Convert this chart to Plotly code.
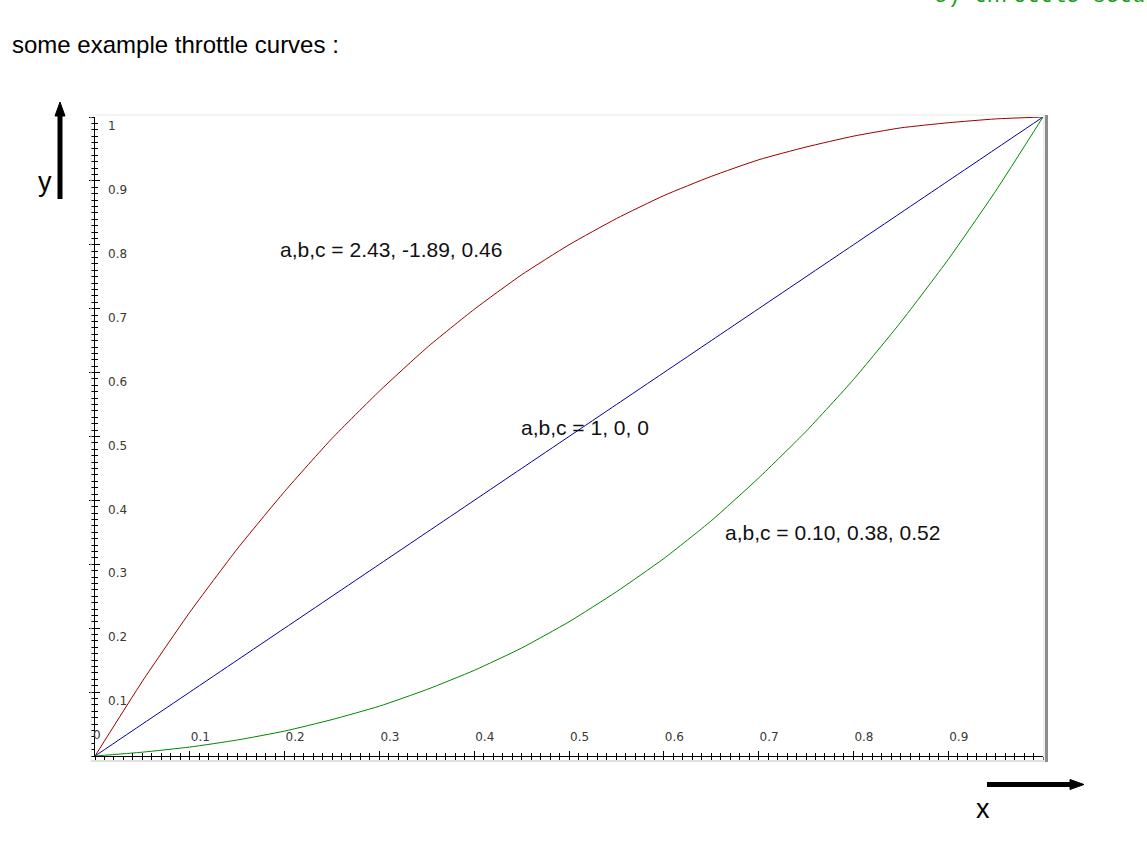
import plotly.graph_objects as go

# ---------------- data ----------------
x_vals = [0.00, 0.05, 0.10, 0.15, 0.20, 0.25, 0.30, 0.35, 0.40, 0.45, 0.50,
          0.55, 0.60, 0.65, 0.70, 0.75, 0.80, 0.85, 0.90, 0.95, 1.00]
red_y = [0.000, 0.117, 0.225, 0.324, 0.414, 0.497, 0.571, 0.639, 0.699, 0.753, 0.800,
         0.841, 0.877, 0.907, 0.933, 0.953, 0.970, 0.983, 0.991, 0.997, 1.000]
blue_y = [0.00, 0.05, 0.10, 0.15, 0.20, 0.25, 0.30, 0.35, 0.40, 0.45, 0.50,
          0.55, 0.60, 0.65, 0.70, 0.75, 0.80, 0.85, 0.90, 0.95, 1.00]
green_y = [0.000, 0.006, 0.014, 0.025, 0.039, 0.057, 0.078, 0.104, 0.134, 0.169, 0.210,
           0.257, 0.309, 0.368, 0.435, 0.508, 0.589, 0.679, 0.777, 0.884, 1.000]

x_tickvals = [0, 0.1, 0.2, 0.3, 0.4, 0.5, 0.6, 0.7, 0.8, 0.9]
x_ticktext = ["0", "0.1", "0.2", "0.3", "0.4", "0.5", "0.6", "0.7", "0.8", "0.9"]
y_tickvals = [0.1, 0.2, 0.3, 0.4, 0.5, 0.6, 0.7, 0.8, 0.9, 1.0]
y_ticktext = ["0.1", "0.2", "0.3", "0.4", "0.5", "0.6", "0.7", "0.8", "0.9", "1"]

labels = ["a,b,c = 2.43, -1.89, 0.46", "a,b,c = 1, 0, 0", "a,b,c = 0.10, 0.38, 0.52"]
title_text = "some example throttle curves :"
corner_text = "c) throttle setup"

# ---------------- layout geometry (pixels) ----------------
W, H = 1147, 850
L, R = 95, 1043     # x=0 and x=1 pixel columns
T, B = 117, 756     # y=1 and y=0 pixel rows


def px(x):
    return (x - L) / (R - L)


def py(y):
    return (B - y) / (B - T)


fig = go.Figure()
colors = ["#990000", "#000099", "#008800"]
for ys, c in zip([red_y, blue_y, green_y], colors):
    fig.add_trace(go.Scatter(x=x_vals, y=ys, mode="lines",
                             line=dict(color=c, width=1, shape="spline", smoothing=0.5),
                             showlegend=False, hoverinfo="skip"))
# helper trace so the overlaid axis (outer half of the crossing ticks) is drawn
fig.add_trace(go.Scatter(x=[None], y=[None], xaxis="x2", yaxis="y2",
                         showlegend=False, hoverinfo="skip"))

tick_color = "#383838"
tickfont = dict(family="DejaVu Sans", size=12, color=tick_color)

common_x = dict(range=[0, 1], showgrid=False, zeroline=False,
                tickmode="array", tickvals=x_tickvals, ticktext=x_ticktext,
                ticklen=5, tickcolor="black", tickwidth=1,
                minor=dict(tickmode="linear", tick0=0, dtick=0.01, ticklen=3,
                           tickcolor="black", tickwidth=1))
common_y = dict(range=[0, 1], showgrid=False, zeroline=False,
                tickmode="array", tickvals=y_tickvals, ticktext=y_ticktext,
                ticklen=5, tickcolor="black", tickwidth=1,
                minor=dict(tickmode="linear", tick0=0, dtick=0.01, ticklen=3,
                           tickcolor="black", tickwidth=1))

xa = dict(common_x)
xa.update(showline=True, linecolor="black", linewidth=1, ticks="inside",
          ticklabelposition="inside right", tickfont=tickfont, ticklabelstandoff=9)
xa["minor"] = dict(common_x["minor"], ticks="inside")
xb = dict(common_x)
xb.update(overlaying="x", anchor="y", side="bottom", ticks="outside",
          showticklabels=False, showline=False, matches="x")
xb["minor"] = dict(common_x["minor"], ticks="outside")

ya = dict(common_y)
ya.update(showline=True, linecolor="black", linewidth=1, ticks="inside",
          ticklabelposition="inside bottom", tickfont=tickfont, ticklabelstandoff=12)
ya["minor"] = dict(common_y["minor"], ticks="inside")
yb = dict(common_y)
yb.update(overlaying="y", anchor="x", side="left", ticks="outside",
          showticklabels=False, showline=False, matches="y")
yb["minor"] = dict(common_y["minor"], ticks="outside")

fig.update_layout(
    width=W, height=H,
    margin=dict(l=L, r=W - R, t=T, b=H - B, pad=0),
    paper_bgcolor="white", plot_bgcolor="white",
    xaxis=xa, xaxis2=xb, yaxis=ya, yaxis2=yb,
    showlegend=False,
)

shapes = [
    # light frame around the applet area
    dict(type="line", xref="paper", yref="paper", x0=px(91), x1=px(1044),
         y0=py(115), y1=py(115), line=dict(color="#e8e8e8", width=1)),
    dict(type="line", xref="paper", yref="paper", x0=px(91), x1=px(91),
         y0=py(115), y1=py(762), line=dict(color="#e8e8e8", width=1)),
    dict(type="line", xref="paper", yref="paper", x0=px(91), x1=px(1044),
         y0=py(761), y1=py(761), line=dict(color="#e0e0e0", width=2)),
    dict(type="line", xref="paper", yref="paper", x0=px(1046.5), x1=px(1046.5),
         y0=py(115), y1=py(762), line=dict(color="#8c8c8c", width=3)),
    dict(type="line", xref="paper", yref="paper", x0=px(1044), x1=px(1044),
         y0=py(115), y1=py(762), line=dict(color="#dcdcdc", width=1)),
    # y arrow
    dict(type="line", xref="paper", yref="paper", x0=px(60), x1=px(60),
         y0=py(199), y1=py(114), line=dict(color="black", width=5)),
    dict(type="path", xref="paper", yref="paper",
         path=f"M {px(55)} {py(116)} L {px(65)} {py(116)} L {px(60)} {py(102)} Z",
         fillcolor="black", line=dict(color="black", width=1)),
    # x arrow
    dict(type="line", xref="paper", yref="paper", x0=px(987), x1=px(1071),
         y0=py(784.5), y1=py(784.5), line=dict(color="black", width=5)),
    dict(type="path", xref="paper", yref="paper",
         path=f"M {px(1070)} {py(779.5)} L {px(1070)} {py(789.5)} L {px(1084)} {py(784.5)} Z",
         fillcolor="black", line=dict(color="black", width=1)),
]
fig.update_layout(shapes=shapes)

label_font = dict(family="Liberation Sans", size=21, color="#111111")
ann = [
    dict(text=labels[0], x=px(278), y=py(249)),
    dict(text=labels[1], x=px(519), y=py(427)),
    dict(text=labels[2], x=px(723), y=py(532)),
]
for a in ann:
    fig.add_annotation(xref="paper", yref="paper", xanchor="left", yanchor="middle",
                       showarrow=False, font=label_font, **a)

# origin label "0" (plotly drops the inside label sitting on the plot edge)
fig.add_annotation(text=x_ticktext[0], xref="x", yref="paper", x=x_tickvals[0],
                   y=py(735), xanchor="left", yanchor="middle", xshift=-4,
                   showarrow=False, font=tickfont)

fig.add_annotation(text=title_text, xref="paper", yref="paper", x=px(10), y=py(45),
                   xanchor="left", yanchor="middle", showarrow=False,
                   font=dict(family="Liberation Sans", size=24, color="black"))
fig.add_annotation(text="y", xref="paper", yref="paper", x=px(45), y=py(182),
                   xanchor="center", yanchor="middle", showarrow=False,
                   font=dict(family="Liberation Sans", size=27, color="black"))
fig.add_annotation(text="x", xref="paper", yref="paper", x=px(983), y=py(809),
                   xanchor="center", yanchor="middle", showarrow=False,
                   font=dict(family="Liberation Sans", size=27, color="black"))
fig.add_annotation(text=corner_text, xref="paper", yref="paper", x=px(932), y=py(-3),
                   xanchor="left", yanchor="middle", showarrow=False,
                   font=dict(family="Liberation Mono", size=22, color="#14a014"))

fig.write_html("out.html", config={"displayModeBar": False},
               post_script="document.body.style.margin='0';")
